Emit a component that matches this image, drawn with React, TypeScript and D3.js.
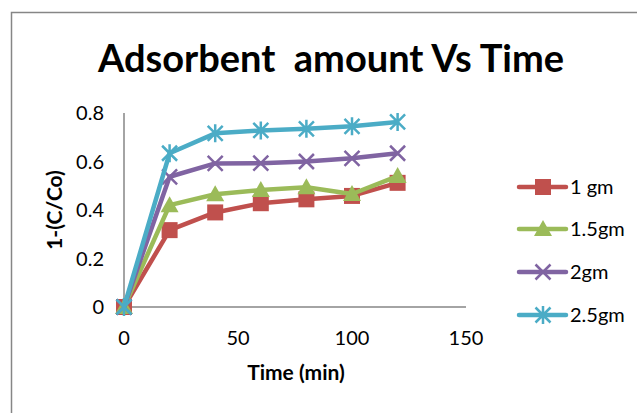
import React from "react";
import * as d3 from "d3";

const times = [0, 20, 40, 60, 80, 100, 120];
const seriesNames = ["1 gm", "1.5gm", "2gm", "2.5gm"];
const s1gm = [0, 0.317, 0.39, 0.428, 0.444, 0.458, 0.512];
const s15gm = [0, 0.42, 0.465, 0.482, 0.494, 0.466, 0.54];
const s2gm = [0, 0.537, 0.592, 0.593, 0.6, 0.613, 0.634];
const s25gm = [0, 0.634, 0.716, 0.728, 0.735, 0.745, 0.763];
const xTicks = [0, 50, 100, 150];
const yTicks = [0, 0.2, 0.4, 0.6, 0.8];
const colors = ["#C0504D", "#9BBB59", "#8064A2", "#4BACC6"];
const markers = ["square", "triangle", "x", "star"];

const W = 637;
const H = 413;
const FONT = "Lato, 'Open Sans', sans-serif";

function Marker({ type, x, y, color }: { type: string; x: number; y: number; color: string }) {
  if (type === "square") {
    return <rect x={x - 8} y={y - 8} width={16} height={16} fill={color} />;
  }
  if (type === "triangle") {
    const p = d3.path();
    p.moveTo(x, y - 9);
    p.lineTo(x + 9, y + 7);
    p.lineTo(x - 9, y + 7);
    p.closePath();
    return <path d={p.toString()} fill={color} />;
  }
  if (type === "x") {
    const r = 7.5;
    return (
      <path
        d={`M${x - r},${y - r}L${x + r},${y + r}M${x - r},${y + r}L${x + r},${y - r}`}
        stroke={color}
        strokeWidth={2.5}
      />
    );
  }
  const r = 7.5;
  return (
    <path
      d={`M${x - r},${y - r}L${x + r},${y + r}M${x - r},${y + r}L${x + r},${y - r}M${x},${y - r - 1.5}L${x},${y + r + 1.5}`}
      stroke={color}
      strokeWidth={2.5}
    />
  );
}

export default function App() {
  const x = d3.scaleLinear().domain([0, 150]).range([124, 466]);
  const y = d3.scaleLinear().domain([0, 0.8]).range([307, 113]);
  const data = [s1gm, s15gm, s2gm, s25gm];
  const line = d3
    .line<number>()
    .x((_, i) => x(times[i]))
    .y((d) => y(d));
  const legendY = [187, 229, 272, 315];

  return (
    <svg
      width={W}
      height={H}
      style={{ position: "absolute", left: 0, top: 0, background: "#fff" }}
      fontFamily={FONT}
    >
      <rect x={0} y={0} width={W} height={H} fill="#fff" />
      <path d={`M11.5,${H}L11.5,12.5L${W},12.5`} fill="none" stroke="#868686" strokeWidth={1.5} />
      <text x={331} y={72} textAnchor="middle" fontSize={38} fontWeight="bold" fill="#000">
        Adsorbent{"\u00a0\u00a0"}amount Vs Time
      </text>
      {/* axes */}
      <line x1={x(0)} x2={x(0)} y1={y(0.8)} y2={y(0)} stroke="#868686" strokeWidth={1.5} />
      <line x1={x(0)} x2={x(150)} y1={y(0)} y2={y(0)} stroke="#868686" strokeWidth={1.5} />
      {yTicks.map((t) => (
        <text key={t} x={104} y={y(t) + 7} textAnchor="end" fontSize={20} fill="#000">
          {t === 0 ? "0" : d3.format(".1f")(t)}
        </text>
      ))}
      {xTicks.map((t) => (
        <text key={t} x={x(t)} y={345} textAnchor="middle" fontSize={20} fill="#000">
          {t}
        </text>
      ))}
      <text x={296} y={380} textAnchor="middle" fontSize={21} fontWeight="bold" fill="#000">
        Time (min)
      </text>
      <text
        transform={`translate(62,${210}) rotate(-90)`}
        textAnchor="middle"
        fontSize={21}
        fontWeight="bold"
        fill="#000"
      >
        1-(C/Co)
      </text>
      {data.map((s, i) => (
        <g key={i}>
          <path d={line(s) || ""} fill="none" stroke={colors[i]} strokeWidth={4.5} strokeLinejoin="round" />
          {s.map((v, j) => (
            <Marker key={j} type={markers[i]} x={x(times[j])} y={y(v)} color={colors[i]} />
          ))}
        </g>
      ))}
      {seriesNames.map((n, i) => (
        <g key={n}>
          <line x1={519} x2={566} y1={legendY[i]} y2={legendY[i]} stroke={colors[i]} strokeWidth={4.5} strokeLinecap="round" />
          <Marker type={markers[i]} x={543} y={legendY[i]} color={colors[i]} />
          <text x={570} y={legendY[i] + 7} fontSize={20} fill="#000">
            {n}
          </text>
        </g>
      ))}
    </svg>
  );
}
